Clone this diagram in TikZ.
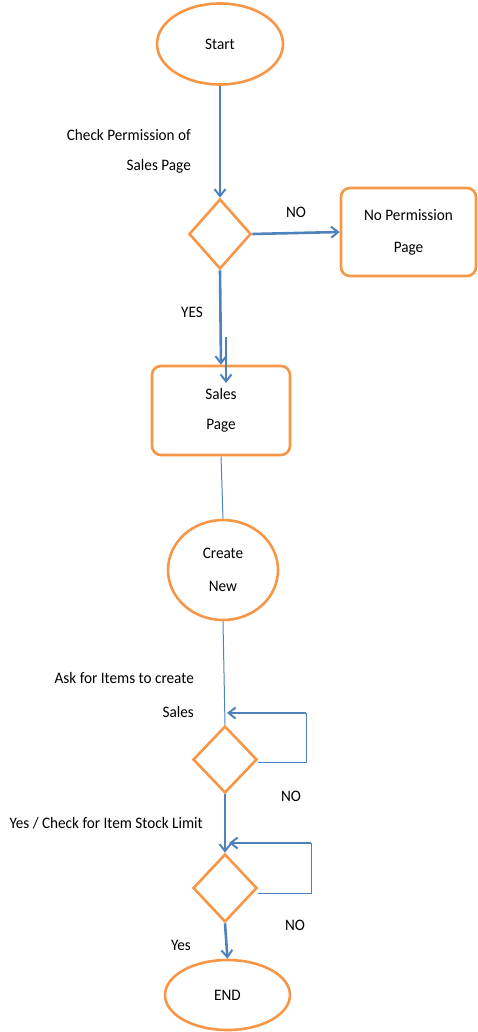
\documentclass[tikz,border=0pt]{standalone}
\usepackage{fontspec}
\setmainfont{Carlito}[FakeStretch=0.95]
\usetikzlibrary{shapes.geometric,arrows.meta}
\definecolor{flowor}{RGB}{247,150,70}
\definecolor{flowbl}{RGB}{79,129,189}
\tikzset{
  every node/.style={font=\fontsize{16}{19}\selectfont, inner sep=0pt},
  term/.style={ellipse, draw=flowor, line width=2.6pt, align=center},
  pagebox/.style={rectangle, rounded corners=9pt, draw=flowor, line width=2.6pt, align=center},
  decide/.style={diamond, draw=flowor, line width=2.6pt},
  flow/.style={draw=flowbl, line width=2.6pt, -{Straight Barb[length=7pt,width=11pt,line width=2pt]}},
  thinflow/.style={draw=flowbl, line width=1pt},
  lbl/.style={align=right}
}
\begin{document}
\begin{tikzpicture}[x=1pt,y=-1pt]
\useasboundingbox (0,0) rectangle (477,1032);

% terminals, pages and decisions
\node[term, minimum width=126pt, minimum height=81pt] (start) at (220,44) {Start};
\node[decide, minimum width=62pt, minimum height=70pt] (d1) at (220,234) {};
\node[pagebox, minimum width=135pt, minimum height=88pt] (noperm) at (408.5,232) {No Permission\\[13pt]Page};
\node[pagebox, minimum width=138pt, minimum height=89pt] (sales) at (221,410.5) {Sales\\[11pt]Page};
\node[term, minimum width=110pt, minimum height=100pt] (create) at (223,570) {Create\\[14pt]New};
\node[decide, minimum width=64pt, minimum height=67pt] (d2) at (225,759.5) {};
\node[decide, minimum width=64pt, minimum height=68pt] (d3) at (225,888) {};
\node[term, minimum width=125pt, minimum height=70pt] (stop) at (227.5,995) {END};

% connectors
\draw[flow] (start.south) -- (d1.north);
\draw[flow] (d1.east) -- (noperm.west);
\draw[flow] (d1.south) -- (sales.north);
\coordinate (dupA) at (226,337);
\coordinate (dupB) at (226,383);
\draw[flow, line width=2pt] (dupA) -- (dupB);
\draw[thinflow] (sales.south) -- (create.north);
\draw[thinflow] (create.south) -- (d2.north);
\draw[flow] (d2.south) -- (d3.north);
\draw[flow] (d3.south) -- (stop.north);

% NO loop back from the item decision
\coordinate (loopAlow) at (306,762);
\coordinate (loopAtop) at (306,713);
\coordinate (loopAend) at (227,713);
\draw[thinflow] (d2.east |- loopAlow) -- (loopAlow) -- (loopAtop);
\draw[flow] (loopAtop) -- (loopAend);

% NO loop back from the stock decision
\coordinate (loopBlow) at (311,893);
\coordinate (loopBtop) at (311,843);
\coordinate (loopBend) at (229,843);
\draw[thinflow] (d3.east |- loopBlow) -- (loopBlow) -- (loopBtop);
\draw[flow] (loopBtop) -- (loopBend);

% labels
\node[lbl, anchor=east] (l1) at (191,135) {Check Permission of};
\node[lbl, anchor=east] (l2) at (191,166) {Sales Page};
\node (l3) at (296,212) {NO};
\node (l4) at (192,312) {YES};
\node[lbl, anchor=east] (l5) at (194,678) {Ask for Items to create};
\node[lbl, anchor=east] (l6) at (194,712) {Sales};
\node (l7) at (291,796) {NO};
\node[lbl, anchor=east] (l8) at (203,823) {Yes / Check for Item Stock Limit};
\node (l9) at (295,925) {NO};
\node (l10) at (181,945) {Yes};
\end{tikzpicture}
\end{document}
